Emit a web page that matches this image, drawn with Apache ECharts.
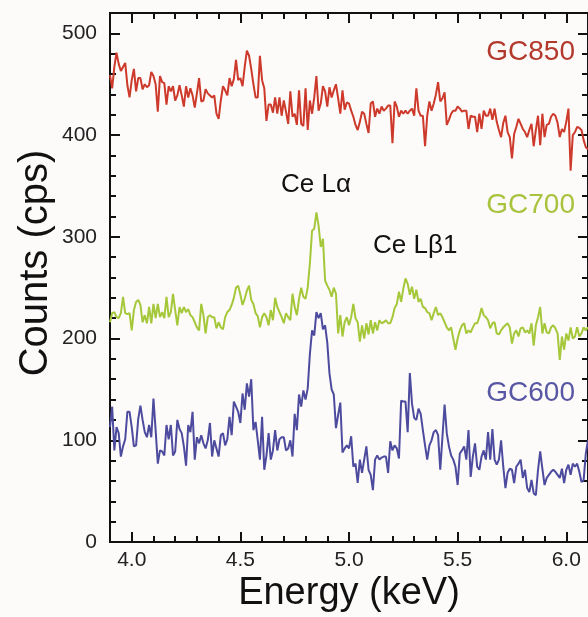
<!DOCTYPE html>
<html>
<head>
<meta charset="utf-8">
<script src="https://cdn.jsdelivr.net/npm/echarts@6/dist/echarts.min.js"></script>
<style>
  html, body { margin: 0; padding: 0; background: #fdfafa; }
  #chart { width: 588px; height: 617px; }
</style>
</head>
<body>
<div id="chart"></div>
<script>
// energy grid, 3.90 .. 6.10 keV in 0.01 steps
var energy = [];
for (var i = 0; i <= 220; i++) energy.push(Number((3.9 + i * 0.01).toFixed(2)));

var xMajor = [4.0, 4.5, 5.0, 5.5, 6.0];
var yMajor = [0, 100, 200, 300, 400, 500];

// GC850 counts (cps)
var gc850 = [
  459, 446, 467, 481, 470, 463, 467, 471, 449, 437,
  454, 465, 443, 456, 456, 445, 450, 447, 449, 462,
  458, 450, 423, 458, 452, 451, 430, 448, 443, 448,
  434, 439, 449, 439, 428, 448, 437, 446, 439, 427,
  441, 456, 433, 434, 445, 441, 439, 437, 439, 421,
  416, 434, 448, 444, 439, 456, 448, 455, 474, 454,
  456, 448, 467, 483, 478, 465, 450, 437, 437, 478,
  454, 446, 414, 430, 430, 422, 437, 421, 437, 419,
  434, 423, 411, 443, 418, 421, 410, 444, 411, 409,
  446, 405, 434, 421, 437, 458, 424, 431, 448, 443,
  428, 447, 437, 444, 450, 436, 421, 444, 425, 432,
  431, 424, 418, 410, 405, 413, 423, 421, 411, 402,
  431, 433, 418, 426, 421, 428, 424, 426, 429, 429,
  392, 433, 428, 418, 424, 421, 424, 421, 424, 426,
  419, 446, 424, 419, 419, 389, 419, 433, 424, 431,
  440, 452, 433, 436, 442, 410, 415, 421, 424, 424,
  428, 426, 423, 424, 424, 406, 419, 418, 418, 403,
  421, 406, 424, 419, 419, 426, 415, 426, 413, 405,
  398, 412, 419, 403, 398, 377, 401, 408, 416, 411,
  406, 403, 398, 405, 411, 389, 405, 419, 390, 421,
  398, 410, 411, 418, 421, 419, 412, 398, 406, 403,
  413, 426, 365, 400, 403, 408, 407, 405, 395, 388, 386
];

// GC700 counts (cps)
var gc700 = [
  216, 225, 226, 221, 220, 225, 241, 225, 224, 225,
  208, 228, 236, 238, 233, 216, 223, 215, 231, 215,
  234, 220, 234, 221, 226, 220, 241, 221, 226, 244,
  228, 213, 231, 225, 231, 226, 229, 223, 221, 216,
  211, 208, 234, 223, 205, 221, 223, 221, 221, 210,
  216, 211, 209, 221, 226, 228, 233, 240, 250, 252,
  243, 233, 239, 247, 252, 238, 234, 225, 222, 211,
  221, 225, 221, 213, 228, 218, 240, 231, 226, 221,
  215, 225, 221, 218, 244, 231, 223, 239, 250, 241,
  239, 250, 274, 306, 308, 324, 311, 290, 298, 257,
  252, 248, 241, 250, 244, 205, 223, 202, 216, 221,
  213, 221, 234, 220, 216, 197, 213, 200, 215, 204,
  218, 205, 216, 208, 218, 215, 216, 218, 215, 215,
  221, 230, 234, 246, 236, 249, 259, 254, 243, 251,
  239, 248, 236, 239, 231, 230, 226, 225, 218, 225,
  231, 223, 225, 221, 216, 211, 208, 211, 200, 189,
  200, 208, 213, 215, 205, 208, 206, 211, 215, 215,
  221, 230, 223, 221, 218, 210, 215, 216, 205, 204,
  208, 211, 213, 215, 211, 195, 205, 208, 202, 210,
  211, 206, 208, 205, 215, 193, 213, 221, 231, 205,
  215, 206, 205, 211, 213, 210, 205, 179, 202, 189,
  205, 198, 211, 200, 202, 211, 202, 205, 211, 208, 211
];

// GC600 counts (cps)
var gc600 = [
  113, 133, 90, 113, 107, 84, 94, 101, 128, 128,
  113, 94, 95, 121, 134, 120, 108, 103, 115, 103,
  141, 110, 77, 90, 89, 85, 115, 101, 115, 85,
  89, 120, 111, 107, 94, 75, 115, 108, 128, 81,
  103, 97, 105, 97, 92, 100, 117, 84, 100, 92,
  84, 105, 107, 95, 101, 123, 105, 138, 133, 128,
  117, 146, 130, 156, 143, 160, 110, 118, 100, 81,
  123, 71, 85, 107, 81, 90, 110, 90, 101, 103,
  103, 90, 92, 100, 84, 126, 110, 145, 133, 149,
  140, 151, 185, 208, 203, 226, 220, 225, 209, 213,
  196, 166, 150, 145, 112, 125, 137, 88, 92, 95,
  92, 104, 74, 77, 58, 81, 68, 81, 94, 71,
  66, 51, 81, 85, 81, 83, 84, 84, 68, 99,
  90, 95, 92, 82, 139, 138, 138, 108, 166, 136,
  122, 120, 131, 126, 110, 95, 81, 95, 100, 108,
  110, 105, 71, 103, 135, 107, 94, 85, 81, 74,
  56, 87, 90, 94, 81, 110, 64, 84, 97, 74,
  71, 84, 90, 81, 108, 81, 111, 81, 76, 81,
  100, 74, 53, 68, 72, 71, 58, 74, 77, 81,
  63, 71, 53, 49, 61, 48, 46, 71, 89, 72,
  56, 63, 66, 69, 71, 69, 66, 63, 72, 58,
  71, 76, 66, 77, 74, 77, 69, 59, 61, 87, 100
];

function pairs(vals) {
  return vals.map(function (v, i) { return [energy[i], v]; });
}

var font = "'Liberation Sans', Arial, sans-serif";
function black() { return { color: '#111', width: 2 }; }

// major ticks/labels live on grid 0, minor ticks on an identical grid 1
function xAxisMajor(pos, withLabels) {
  return {
    type: 'value', gridIndex: 0, position: pos, min: 3.9, max: 6.1,
    axisLine: { show: true, onZero: false, lineStyle: black() },
    axisTick: { show: true, inside: true, length: 10, customValues: xMajor, lineStyle: black() },
    axisLabel: {
      show: withLabels, customValues: xMajor, margin: 8,
      fontSize: 21, fontFamily: font, color: '#222',
      formatter: function (v) { return v.toFixed(1); }
    },
    splitLine: { show: false }
  };
}
function xAxisMinor(pos) {
  return {
    type: 'value', gridIndex: 1, position: pos, min: 3.9, max: 6.1, interval: 0.1,
    axisLine: { show: true, onZero: false, lineStyle: black() },
    axisTick: { show: true, inside: true, length: 6, lineStyle: black() },
    axisLabel: { show: false }, splitLine: { show: false }
  };
}
function yAxisMajor(pos, withLabels) {
  return {
    type: 'value', gridIndex: 0, position: pos, min: 0, max: 520,
    axisLine: { show: true, onZero: false, lineStyle: black() },
    axisTick: { show: true, inside: true, length: 10, customValues: yMajor, lineStyle: black() },
    axisLabel: {
      show: withLabels, customValues: yMajor, margin: 13,
      fontSize: 21, fontFamily: font, color: '#222'
    },
    splitLine: { show: false }
  };
}
function yAxisMinor(pos) {
  return {
    type: 'value', gridIndex: 1, position: pos, min: 0, max: 520, interval: 20,
    axisLine: { show: true, onZero: false, lineStyle: black() },
    axisTick: { show: true, inside: true, length: 6, lineStyle: black() },
    axisLabel: { show: false }, splitLine: { show: false }
  };
}

var rect = { left: 110, top: 13, width: 479, height: 529 };

var option = {
  backgroundColor: '#fdfafa',
  animation: false,
  grid: [
    Object.assign({}, rect),
    Object.assign({}, rect)
  ],
  xAxis: [xAxisMajor('bottom', true), xAxisMajor('top', false), xAxisMinor('bottom'), xAxisMinor('top')],
  yAxis: [yAxisMajor('left', true), yAxisMajor('right', false), yAxisMinor('left'), yAxisMinor('right')],
  series: [
    { name: 'GC850', type: 'line', xAxisIndex: 0, yAxisIndex: 0, showSymbol: false,
      lineStyle: { color: '#cd3a2b', width: 2 }, data: pairs(gc850) },
    { name: 'GC700', type: 'line', xAxisIndex: 0, yAxisIndex: 0, showSymbol: false,
      lineStyle: { color: '#a5c83a', width: 2 }, data: pairs(gc700) },
    { name: 'GC600', type: 'line', xAxisIndex: 0, yAxisIndex: 0, showSymbol: false,
      lineStyle: { color: '#4d4b9e', width: 2 }, data: pairs(gc600) }
  ],
  graphic: [
    { type: 'text', x: 36, y: 263, rotation: Math.PI / 2,
      style: { text: 'Counts (cps)', fontSize: 40, fontFamily: font, fill: '#111',
               textAlign: 'center', textVerticalAlign: 'middle' } },
    { type: 'text', x: 349, y: 594,
      style: { text: 'Energy (keV)', fontSize: 38, fontFamily: font, fill: '#111',
               textAlign: 'center', textVerticalAlign: 'middle' } },
    { type: 'text', right: 13, top: 38,
      style: { text: 'GC850', fontSize: 28, fontFamily: font, fill: '#b3392c' } },
    { type: 'text', right: 13, top: 191,
      style: { text: 'GC700', fontSize: 28, fontFamily: font, fill: '#a8c33e' } },
    { type: 'text', right: 13, top: 379,
      style: { text: 'GC600', fontSize: 28, fontFamily: font, fill: '#5857a3' } },
    { type: 'text', left: 281, top: 172,
      style: { text: 'Ce L\u03b1', fontSize: 26, fontFamily: font, fill: '#111' } },
    { type: 'text', left: 373, top: 233,
      style: { text: 'Ce L\u03b21', fontSize: 26, fontFamily: font, fill: '#111' } }
  ]
};

var myChart = echarts.init(document.getElementById('chart'), null, { renderer: 'canvas' });
myChart.setOption(option);
</script>
</body>
</html>
